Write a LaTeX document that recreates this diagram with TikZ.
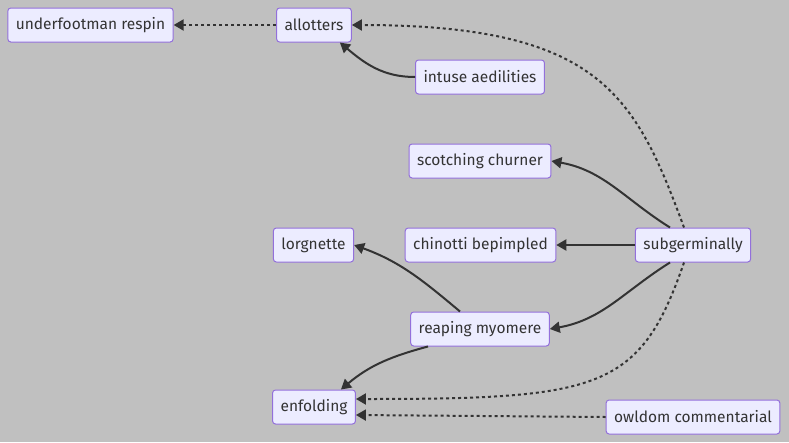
\documentclass[tikz,border=0pt]{standalone}
\usepackage{fontspec}
\setmainfont{Fira Sans}
\usetikzlibrary{arrows.meta}
\definecolor{bggray}{HTML}{C0C0C0}
\definecolor{nodefill}{HTML}{ECECFF}
\definecolor{nodeline}{HTML}{9370DB}
\definecolor{ink}{HTML}{333333}
\tikzset{
  every node/.style={font=\fontsize{15.5}{19}\selectfont, text=ink},
  box/.style      = {rectangle, rounded corners=3pt, draw=nodeline, fill=nodefill,
                     line width=1pt, inner xsep=8pt, minimum height=34pt, align=center},
  arrow/.style    = {-{Triangle[length=10pt,width=11pt]}, line width=2pt, draw=ink},
  dotarrow/.style = {arrow, dash pattern=on 3pt off 3pt},
}

\begin{document}
\begin{tikzpicture}[x=1pt, y=-1pt]
  \fill[bggray] (0,0) rectangle (789,442);
  \useasboundingbox (0,0) rectangle (789,442);

  \node[box] (under)  at (90.5,25)  {underfootman respin};
  \node[box] (allot)  at (314,25)   {allotters};
  \node[box] (intuse) at (480,77)   {intuse aedilities};
  \node[box] (scotch) at (480,161)  {scotching churner};
  \node[box] (lorg)   at (313.5,245){lorgnette};
  \node[box] (chin)   at (480.5,245){chinotti bepimpled};
  \node[box] (sub)    at (693,245)  {subgerminally};
  \node[box] (reap)   at (480,329)  {reaping myomere};
  \node[box] (enfold) at (314,407)  {enfolding};
  \node[box] (owl)    at (693,417)  {owldom commentarial};

  \draw[dotarrow] (allot) -- (under);
  \draw[dotarrow] ([xshift=-9pt]sub.north) .. controls (635,95) and (600,25) .. (allot.east);
  \draw[arrow] (intuse.west) to[out=180,in=-40] ([xshift=-12pt]allot.south east);

  \draw[arrow] ([xshift=-23pt]sub.north) to[out=148,in=-10] (scotch.east);
  \draw[arrow] (sub) -- (chin);
  \draw[arrow] ([xshift=-23pt]sub.south) to[out=-148,in=10] (reap.east);

  \draw[arrow] ([xshift=-20pt]reap.north) to[out=140,in=-20] (lorg.east);
  \draw[arrow] ([xshift=-52pt]reap.south) to[out=-165,in=40] ([xshift=-15pt]enfold.north east);

  \draw[dotarrow] ([xshift=-9pt]sub.south) .. controls (640,390) and (600,399) .. ([yshift=8pt]enfold.east);
  \draw[dotarrow] (owl.west) -- ([yshift=-8pt]enfold.east);
\end{tikzpicture}
\end{document}
